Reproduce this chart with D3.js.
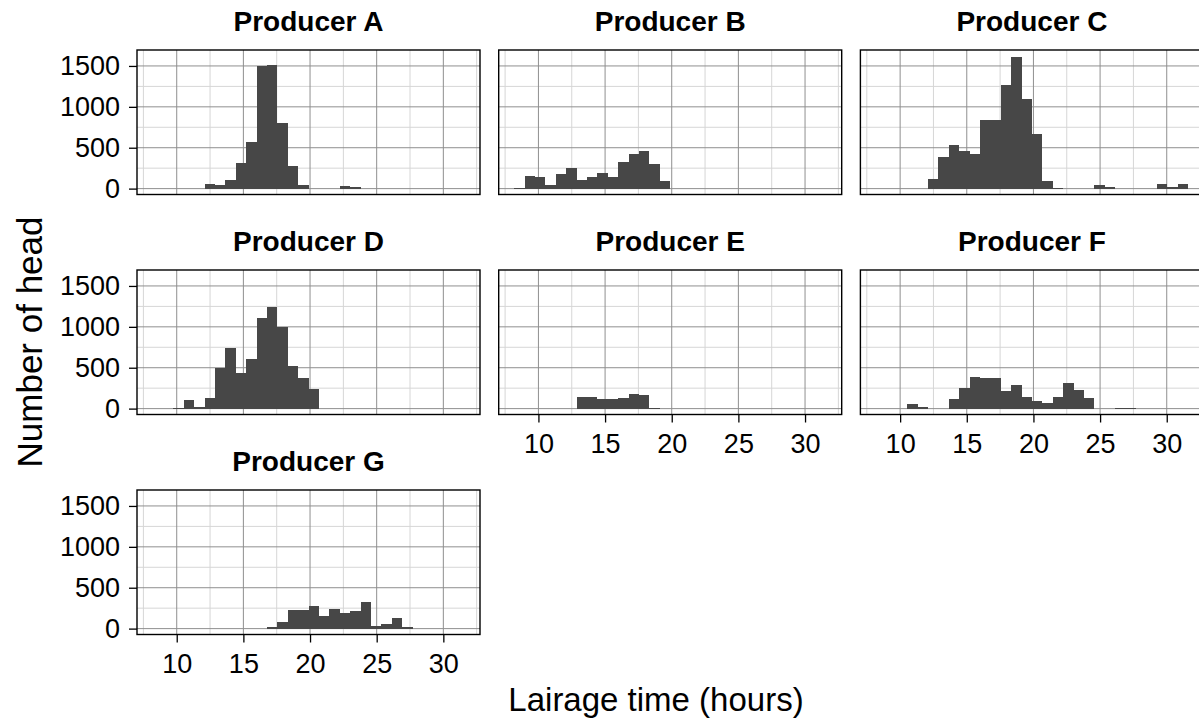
<!DOCTYPE html>
<html>
<meta charset="utf-8">
<style>
    body {
        margin: 0;
        background: #fff;
    }

    text {
        font-family: 'Liberation Sans', Arial, sans-serif;
        fill: #000;
    }
</style>

<body>
    <svg id="chart" width="1199" height="720"></svg>
    <script src="https://d3js.org/d3.v7.min.js"></script>
    <script>

        // histogram bins: 30 bins of equal width, lower edge of the first bin
        const binStart = 8.19;
        const binWidth = 0.78;

        const producers = ["Producer A", "Producer B", "Producer C", "Producer D", "Producer E", "Producer F", "Producer G"];

        const countsA = [0, 0, 0, 0, 0, 56, 40, 100, 314, 568, 1495, 1515, 802, 278, 44, 0, 0, 0, 32, 20, 0, 0, 0, 0, 0, 0, 0, 0, 0, 0];
        const countsB = [8, 153, 141, 44, 177, 258, 105, 141, 185, 141, 322, 427, 455, 306, 93, 0, 0, 0, 0, 0, 0, 0, 0, 0, 0, 0, 0, 0, 0, 0];
        const countsC = [0, 0, 0, 0, 0, 113, 383, 536, 455, 419, 838, 838, 1261, 1612, 1096, 673, 93, 12, 0, 0, 0, 44, 20, 0, 0, 0, 0, 56, 24, 56];
        const countsD = [0, 0, 8, 102, 16, 126, 496, 744, 431, 606, 1110, 1248, 996, 524, 370, 240, 0, 0, 0, 0, 0, 0, 0, 0, 0, 0, 0, 0, 0, 0];
        const countsE = [0, 0, 0, 0, 0, 0, 146, 146, 114, 114, 134, 183, 171, 12, 0, 0, 0, 0, 0, 0, 0, 0, 0, 0, 0, 0, 0, 0, 0, 0];
        const countsF = [0, 0, 0, 53, 20, 0, 0, 118, 252, 386, 370, 370, 220, 289, 138, 89, 65, 138, 313, 232, 126, 0, 0, 6, 6, 0, 0, 0, 0, 0];
        const countsG = [0, 0, 0, 0, 0, 0, 0, 0, 0, 0, 0, 16, 86, 233, 233, 282, 151, 245, 188, 213, 331, 33, 57, 127, 16, 0, 0, 0, 0, 0];

        const xTicks = [10, 15, 20, 25, 30];
        const xMinor = [7.5, 12.5, 17.5, 22.5, 27.5, 32.5];
        const yTicks = [0, 500, 1000, 1500];
        const yMinor = [250, 750, 1250];

        const allCounts = [countsA, countsB, countsC, countsD, countsE, countsF, countsG];

        const chart = d3.select("#chart");

        const panelW = 343;
        const panelH = 144.5;
        const colLeft = [137, 498.7, 860.4];
        const rowTop = [50, 270, 490];
        const nCol = 3;

        const x = d3.scaleLinear().domain([7.02, 32.75]).range([0, panelW]);
        const y = d3.scaleLinear().domain([-72, 1695]).range([panelH, 0]);

        const barColor = "#474747";

        producers.forEach((name, i) => {
            const col = i % nCol;
            const row = Math.floor(i / nCol);
            const counts = allCounts[i];
            const g = chart.append("g")
                .attr("transform", "translate(" + colLeft[col] + "," + rowTop[row] + ")");

            // minor grid
            g.selectAll(".xminor").data(xMinor).enter().append("line")
                .attr("x1", d => x(d)).attr("x2", d => x(d))
                .attr("y1", 0).attr("y2", panelH)
                .attr("stroke", "#d6d6d6").attr("stroke-width", 1);
            g.selectAll(".yminor").data(yMinor).enter().append("line")
                .attr("x1", 0).attr("x2", panelW)
                .attr("y1", d => y(d)).attr("y2", d => y(d))
                .attr("stroke", "#d6d6d6").attr("stroke-width", 1);

            // major grid
            g.selectAll(".xmajor").data(xTicks).enter().append("line")
                .attr("x1", d => x(d)).attr("x2", d => x(d))
                .attr("y1", 0).attr("y2", panelH)
                .attr("stroke", "#8f8f8f").attr("stroke-width", 1);
            g.selectAll(".ymajor").data(yTicks).enter().append("line")
                .attr("x1", 0).attr("x2", panelW)
                .attr("y1", d => y(d)).attr("y2", d => y(d))
                .attr("stroke", "#8f8f8f").attr("stroke-width", 1);

            // bars
            const bins = counts.map((c, j) => ({
                x0: binStart + j * binWidth,
                x1: binStart + (j + 1) * binWidth,
                count: c
            })).filter(d => d.count > 0);

            g.selectAll(".bar").data(bins).enter().append("rect")
                .attr("x", d => x(d.x0))
                .attr("width", d => x(d.x1) - x(d.x0))
                .attr("y", d => y(d.count))
                .attr("height", d => y(0) - y(d.count))
                .attr("fill", barColor)
                .attr("shape-rendering", "crispEdges");

            // panel border
            g.append("rect")
                .attr("width", panelW).attr("height", panelH)
                .attr("fill", "none")
                .attr("stroke", "#000").attr("stroke-width", 1.4);

            // strip title
            g.append("text")
                .attr("x", panelW / 2).attr("y", -19)
                .attr("text-anchor", "middle")
                .style("font-size", "28px")
                .style("font-weight", "bold")
                .text(name);

            // y axis on left column
            if (col === 0) {
                const ya = g.append("g")
                    .call(d3.axisLeft(y).tickValues(yTicks).tickFormat(d3.format("d")).tickSize(8).tickPadding(9));
                ya.select(".domain").remove();
                ya.selectAll(".tick line").attr("stroke", "#000").attr("stroke-width", 1.3);
                ya.selectAll("text").style("font-size", "27px").attr("fill", "#000");
            }

            // x axis when nothing is below
            if (i + nCol >= producers.length) {
                const xa = g.append("g")
                    .attr("transform", "translate(0," + panelH + ")")
                    .call(d3.axisBottom(x).tickValues(xTicks).tickFormat(d3.format("d")).tickSize(8).tickPadding(11));
                xa.select(".domain").remove();
                xa.selectAll(".tick line").attr("stroke", "#000").attr("stroke-width", 1.3);
                xa.selectAll("text").style("font-size", "27px").attr("fill", "#000");
            }
        });

        // axis titles
        chart.append("text")
            .attr("x", 656).attr("y", 711)
            .attr("text-anchor", "middle")
            .style("font-size", "33px")
            .text("Lairage time (hours)");

        chart.append("text")
            .attr("transform", "translate(42,342) rotate(-90)")
            .attr("text-anchor", "middle")
            .style("font-size", "35px")
            .text("Number of head");

    </script>
</body>

</html>
